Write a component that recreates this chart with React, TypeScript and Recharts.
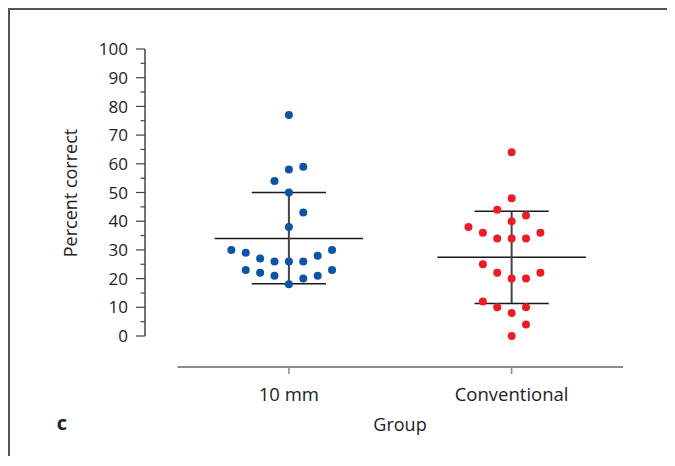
import React from 'react';
import {
    ScatterChart, Scatter, XAxis, YAxis, ReferenceLine,
} from 'recharts';

// Groups on the x axis
const groups = ['10 mm', 'Conventional'];

// Percent correct per subject, with its column slot in the dot plot
const tenMmValues = [77, 59, 58, 54, 50, 43, 38, 30, 29, 27, 26, 26, 26, 28, 30, 23, 22, 21, 20, 21, 23, 18];
const tenMmSlots = [0, 1, 0, -1, 0, 1, 0, -4, -3, -2, -1, 0, 1, 2, 3, -3, -2, -1, 1, 2, 3, 0];
const conventionalValues = [64, 48, 44, 42, 40, 38, 36, 36, 34, 34, 34, 25, 22, 22, 20, 20, 12, 10, 10, 8, 4, 0];
const conventionalSlots = [0, 0, -1, 1, 0, -3, -2, 2, -1, 0, 1, -2, -1, 2, 0, 1, -2, -1, 1, 0, 1, 0];

// Mean and SD bars
const means = [34, 27.4];
const sdUpper = [50, 43.5];
const sdLower = [18.2, 11.3];

const yTicks = [0, 5, 10, 15, 20, 25, 30, 35, 40, 45, 50, 55, 60, 65, 70, 75, 80, 85, 90, 95, 100];

const xDomain = [0.354, 2.5];
const yDomain = [-10.8, 100];
const jitterStep = 0.0646;
const meanHalf = 1 / 3;
const capHalf = 1 / 6;

const FONT = '"Open Sans", "Noto Sans", sans-serif';

const toPoints = (values: number[], slots: number[], group: number) =>
    values.map((v, i) => ({ x: group + slots[i] * jitterStep, y: v }));

const tenMmData = toPoints(tenMmValues, tenMmSlots, 1);
const conventionalData = toPoints(conventionalValues, conventionalSlots, 2);

const YTick = (props: any) => {
    const { x, y, payload } = props;
    const major = payload.value % 10 === 0;
    return (
        <g>
            <line x1={x - (major ? 9 : 4.5)} x2={x} y1={y} y2={y} stroke="#444" strokeWidth={1.2} />
            {major && (
                <text x={x - 17} y={y} dy="0.36em" textAnchor="end" fontSize={17} fontFamily={FONT} fill="#222">
                    {payload.value}
                </text>
            )}
        </g>
    );
};

const dot = (color: string) => (props: any) => (
    <circle cx={props.cx} cy={props.cy} r={4} fill={color} />
);

const App = () => {
    return (
        <div
            style={{
                position: 'relative',
                width: 660,
                minWidth: 660,
                flexShrink: 0,
                boxSizing: 'content-box',
                height: 446,
                borderTop: '2px solid #555',
                borderLeft: '2px solid #555',
                borderRight: '2px solid #555',
                fontFamily: FONT,
                color: '#222',
            }}
        >
            <ScatterChart width={660} height={446} margin={{ top: 39, right: 47, bottom: 49, left: 75 }}>
                <XAxis
                    type="number"
                    dataKey="x"
                    domain={xDomain}
                    allowDataOverflow
                    ticks={[1, 2]}
                    interval={0}
                    tickFormatter={(v) => groups[Math.round(v) - 1]}
                    height={40}
                    axisLine={false}
                    tickSize={7}
                    tickMargin={14}
                    tickLine={{ stroke: '#8c8c8c', strokeWidth: 1.5 }}
                    tick={{ fontSize: 18.5, fontFamily: FONT, fill: '#222' }}
                />
                <YAxis
                    type="number"
                    dataKey="y"
                    domain={yDomain}
                    allowDataOverflow
                    ticks={yTicks}
                    interval={0}
                    width={60}
                    axisLine={false}
                    tickLine={false}
                    tickSize={0}
                    tickMargin={0}
                    tick={<YTick />}
                />

                {/* axis lines */}
                <ReferenceLine
                    segment={[{ x: xDomain[0], y: 0 }, { x: xDomain[0], y: 100 }]}
                    stroke="#444"
                    strokeWidth={1.5}
                    ifOverflow="visible"
                />
                <ReferenceLine
                    segment={[{ x: 0.5, y: yDomain[0] }, { x: 2.5, y: yDomain[0] }]}
                    stroke="#8c8c8c"
                    strokeWidth={2}
                    ifOverflow="visible"
                />

                {/* mean +/- SD */}
                {means.map((m, i) => (
                    <ReferenceLine
                        key={`mean-${i}`}
                        segment={[{ x: i + 1 - meanHalf, y: m }, { x: i + 1 + meanHalf, y: m }]}
                        stroke="#1a1a1a"
                        strokeWidth={1.5}
                    />
                ))}
                {means.map((m, i) => (
                    <ReferenceLine
                        key={`sd-${i}`}
                        segment={[{ x: i + 1, y: sdLower[i] }, { x: i + 1, y: sdUpper[i] }]}
                        stroke="#444"
                        strokeWidth={2}
                    />
                ))}
                {sdUpper.map((u, i) => (
                    <ReferenceLine
                        key={`cap-u-${i}`}
                        segment={[{ x: i + 1 - capHalf, y: u }, { x: i + 1 + capHalf, y: u }]}
                        stroke="#1a1a1a"
                        strokeWidth={1.5}
                    />
                ))}
                {sdLower.map((l, i) => (
                    <ReferenceLine
                        key={`cap-l-${i}`}
                        segment={[{ x: i + 1 - capHalf, y: l }, { x: i + 1 + capHalf, y: l }]}
                        stroke="#1a1a1a"
                        strokeWidth={1.5}
                    />
                ))}

                <Scatter data={tenMmData} shape={dot('#0a55a5')} isAnimationActive={false} />
                <Scatter data={conventionalData} shape={dot('#ec1c27')} isAnimationActive={false} />
            </ScatterChart>

            <div
                style={{
                    position: 'absolute',
                    left: 60,
                    top: 182.5,
                    transform: 'translate(-50%, -50%) rotate(-90deg)',
                    whiteSpace: 'nowrap',
                    fontSize: 18,
                    lineHeight: 1,
                }}
            >
                Percent correct
            </div>
            <div
                style={{
                    position: 'absolute',
                    left: 390,
                    top: 414,
                    transform: 'translate(-50%, -50%)',
                    whiteSpace: 'nowrap',
                    fontSize: 18,
                    lineHeight: 1,
                }}
            >
                Group
            </div>
            <div
                style={{
                    position: 'absolute',
                    left: 52,
                    top: 413,
                    transform: 'translate(-50%, -50%)',
                    fontSize: 20,
                    fontWeight: 700,
                    lineHeight: 1,
                }}
            >
                c
            </div>
        </div>
    );
};

export default App;
